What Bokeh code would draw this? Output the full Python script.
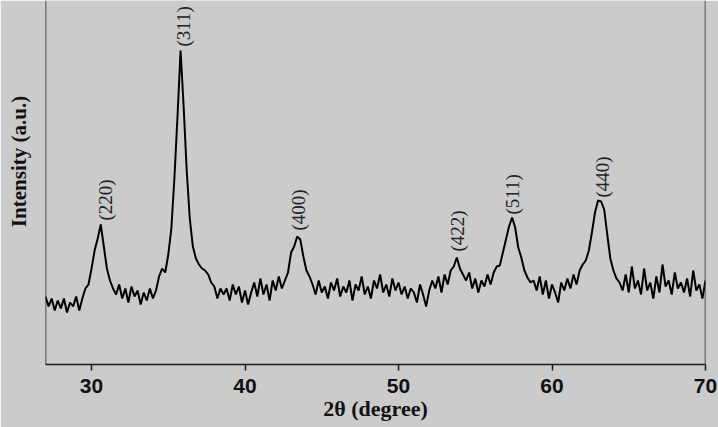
import math
from bokeh.plotting import figure
from bokeh.models import Range1d, Span, ColumnDataSource, FixedTicker
from bokeh.embed import file_html
from bokeh.resources import INLINE
from bokeh.core.properties import value

# 2-theta scan positions (degree)
two_theta = [
    27.0, 27.2, 27.4, 27.6, 27.8, 28.0, 28.2, 28.4, 28.6, 28.8,
    29.0, 29.2, 29.4, 29.6, 29.8, 30.0, 30.2, 30.4, 30.6, 30.8,
    31.0, 31.2, 31.4, 31.6, 31.8, 32.0, 32.2, 32.4, 32.6, 32.8,
    33.0, 33.2, 33.4, 33.6, 33.8, 34.0, 34.2, 34.4, 34.6, 34.8,
    35.0, 35.2, 35.4, 35.6, 35.8, 36.0, 36.2, 36.4, 36.6, 36.8,
    37.0, 37.2, 37.4, 37.6, 37.8, 38.0, 38.2, 38.4, 38.6, 38.8,
    39.0, 39.2, 39.4, 39.6, 39.8, 40.0, 40.2, 40.4, 40.6, 40.8,
    41.0, 41.2, 41.4, 41.6, 41.8, 42.0, 42.2, 42.4, 42.6, 42.8,
    43.0, 43.2, 43.4, 43.6, 43.8, 44.0, 44.2, 44.4, 44.6, 44.8,
    45.0, 45.2, 45.4, 45.6, 45.8, 46.0, 46.2, 46.4, 46.6, 46.8,
    47.0, 47.2, 47.4, 47.6, 47.8, 48.0, 48.2, 48.4, 48.6, 48.8,
    49.0, 49.2, 49.4, 49.6, 49.8, 50.0, 50.2, 50.4, 50.6, 50.8,
    51.0, 51.2, 51.4, 51.6, 51.8, 52.0, 52.2, 52.4, 52.6, 52.8,
    53.0, 53.2, 53.4, 53.6, 53.8, 54.0, 54.2, 54.4, 54.6, 54.8,
    55.0, 55.2, 55.4, 55.6, 55.8, 56.0, 56.2, 56.4, 56.6, 56.8,
    57.0, 57.2, 57.4, 57.6, 57.8, 58.0, 58.2, 58.4, 58.6, 58.8,
    59.0, 59.2, 59.4, 59.6, 59.8, 60.0, 60.2, 60.4, 60.6, 60.8,
    61.0, 61.2, 61.4, 61.6, 61.8, 62.0, 62.2, 62.4, 62.6, 62.8,
    63.0, 63.2, 63.4, 63.6, 63.8, 64.0, 64.2, 64.4, 64.6, 64.8,
    65.0, 65.2, 65.4, 65.6, 65.8, 66.0, 66.2, 66.4, 66.6, 66.8,
    67.0, 67.2, 67.4, 67.6, 67.8, 68.0, 68.2, 68.4, 68.6, 68.8,
    69.0, 69.2, 69.4, 69.6, 69.8, 70.0,
]

# Intensity (a.u.)
intensity = [
    68, 58, 66, 54, 64, 56, 66, 52, 62, 58,
    68, 54, 66, 76, 80, 96, 114, 126, 140, 118,
    96, 84, 76, 70, 80, 66, 76, 62, 78, 68,
    74, 60, 72, 64, 76, 66, 74, 88, 96, 92,
    110, 136, 187, 248, 314, 258, 194, 146, 118, 106,
    100, 96, 94, 90, 82, 78, 66, 76, 70, 76,
    64, 80, 70, 78, 62, 74, 60, 72, 82, 68,
    86, 70, 80, 64, 84, 74, 88, 76, 84, 92,
    112, 118, 128, 125, 108, 94, 88, 80, 70, 84,
    72, 78, 66, 82, 74, 86, 68, 78, 72, 84,
    64, 80, 74, 88, 70, 78, 66, 84, 76, 90,
    72, 80, 68, 86, 74, 82, 70, 78, 66, 76,
    72, 62, 80, 70, 58, 74, 84, 76, 88, 72,
    90, 80, 94, 98, 107, 96, 90, 84, 92, 76,
    86, 72, 84, 78, 90, 80, 92, 98, 99, 112,
    125, 138, 147, 137, 117, 107, 94, 87, 82, 84,
    74, 88, 70, 84, 66, 80, 72, 62, 82, 74,
    86, 76, 90, 80, 94, 100, 104, 114, 132, 152,
    164, 163, 155, 130, 106, 94, 86, 82, 74, 90,
    72, 98, 76, 84, 70, 96, 74, 82, 66, 88,
    72, 100, 78, 84, 70, 92, 76, 82, 72, 86,
    68, 94, 74, 80, 66, 84,
]

tick_values = [30, 40, 50, 60, 70]

hkl_labels = ["(220)", "(311)", "(400)", "(422)", "(511)", "(440)"]
hkl_x = [30.90, 35.98, 43.46, 53.87, 57.45, 63.30]
hkl_y = [144, 318, 134, 113, 150, 167]

BG = "#cbcbcb"
INK = "#1a1a1a"

p = figure(width=718, height=427, output_backend="svg", toolbar_location=None,
           x_range=Range1d(27, 70), y_range=Range1d(0, 364),
           min_border_left=45, min_border_right=13,
           min_border_top=0, min_border_bottom=63)
p.background_fill_color = BG
p.border_fill_color = BG
p.outline_line_color = None
p.grid.visible = False

xa = p.xaxis[0]
xa.ticker = FixedTicker(ticks=tick_values)
xa.minor_tick_line_color = None
xa.major_tick_in = 0
xa.major_tick_out = 6
xa.major_tick_line_width = 1.5
xa.major_tick_line_color = INK
xa.axis_line_width = 1.5
xa.axis_line_color = INK
xa.major_label_text_font = "Liberation Sans"
xa.major_label_text_font_style = "bold"
xa.major_label_text_font_size = "21px"
xa.major_label_text_color = "#111111"
xa.major_label_standoff = 8
xa.axis_label = "2θ (degree)"
xa.axis_label_standoff = 0
xa.axis_label_text_font = "Liberation Serif"
xa.axis_label_text_font_style = "bold"
xa.axis_label_text_font_size = "22px"
xa.axis_label_text_color = "#111111"

ya = p.yaxis[0]
ya.ticker = FixedTicker(ticks=[])
ya.axis_line_color = None
ya.major_tick_line_color = None
ya.minor_tick_line_color = None
ya.major_tick_out = 0
ya.major_label_text_font_size = "0px"
ya.major_label_standoff = 0
# leading no-break spaces lift the centred label towards the top, as in the source
ya.axis_label = "\u00a0" * 8 + "Intensity (a.u.)"
ya.axis_label_standoff = 15
ya.axis_label_text_font = "Liberation Serif"
ya.axis_label_text_font_style = "bold"
ya.axis_label_text_font_size = "21px"
ya.axis_label_text_color = "#111111"

p.add_layout(Span(location=27, dimension="height", line_color=INK, line_width=1.5))
p.add_layout(Span(location=70, dimension="height", line_color=INK, line_width=1.5))

p.line(two_theta, intensity, line_color="#000000", line_width=2)

src = ColumnDataSource(dict(x=hkl_x, y=hkl_y, t=hkl_labels))
p.text(x="x", y="y", text="t", source=src, angle=math.pi / 2,
       text_font=value("Liberation Serif"), text_font_size="19px",
       text_color="#222222", text_align="left", text_baseline="middle")

open("out.html", "w").write(file_html(p, INLINE))
